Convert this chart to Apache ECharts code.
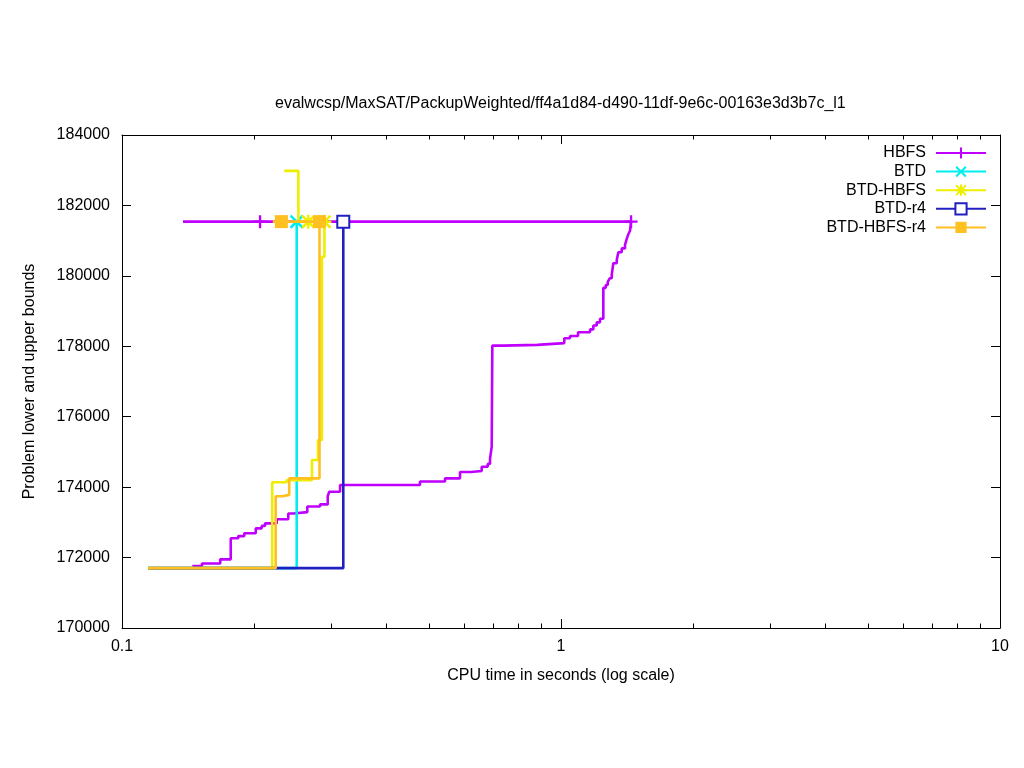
<!DOCTYPE html>
<html><head><meta charset="utf-8">
<script src="https://cdn.jsdelivr.net/npm/echarts@6/dist/echarts.min.js"></script>
<style>html,body{margin:0;padding:0;background:#fff}#c{width:1024px;height:768px}</style>
</head><body><div id="c"></div>
<script>
const titleText = 'evalwcsp/MaxSAT/PackupWeighted/ff4a1d84-d490-11df-9e6c-00163e3d3b7c_l1';
const xName = 'CPU time in seconds (log scale)';
const yName = 'Problem lower and upper bounds';
const seriesNames = ['HBFS', 'BTD', 'BTD-HBFS', 'BTD-r4', 'BTD-HBFS-r4'];
const xMinorTicks = [0.2, 0.3, 0.4, 0.5, 0.6, 0.7, 0.8, 0.9, 2, 3, 4, 5, 6, 7, 8, 9];

// HBFS
const hbfsLowT = [0.1446, 0.1521, 0.1674, 0.1769, 0.1840, 0.1899, 0.2017, 0.2081, 0.2117, 0.2251, 0.2392, 0.2456, 0.2643, 0.2825, 0.2942, 0.2966, 0.3139, 0.4773, 0.5443, 0.5888, 0.6237, 0.6597, 0.6808, 0.6891, 0.6953, 0.6975, 0.7389, 0.8831, 1.0174, 1.0484, 1.0934, 1.1645, 1.1848, 1.2060, 1.2270, 1.2486, 1.2644, 1.2778, 1.2911, 1.3049, 1.3158, 1.3396, 1.3508, 1.3751, 1.3990, 1.4116, 1.4234, 1.4362, 1.444];
const hbfsLowV = [171760, 171830, 171950, 172550, 172610, 172690, 172830, 172900, 172970, 173090, 173250, 173290, 173450, 173510, 173750, 173870, 174060, 174160, 174250, 174430, 174460, 174580, 174660, 174800, 175150, 178020, 178040, 178090, 178230, 178290, 178400, 178480, 178590, 178680, 178780, 179660, 179740, 179830, 179930, 180030, 180360, 180450, 180670, 180780, 180880, 181050, 181180, 181280, 181540];
const hbfsUpT = [0.1377, 0.2063, 1.444];
const hbfsUpV = [181540, 181540, 181540];
const hbfsUpMark = [0, 1, 1];

// BTD
const btdLowT = [0.1146, 0.2500];
const btdLowV = [171700, 181540];
const btdLowMark = [0, 1];

// BTD-HBFS
const btdHbfsLowT = [0.1146, 0.2199, 0.2372, 0.2709, 0.2796, 0.2854, 0.2891];
const btdHbfsLowV = [171700, 174140, 174200, 174770, 175340, 180540, 181540];
const btdHbfsUpT = [0.2342, 0.2522, 0.2656, 0.2891];
const btdHbfsUpV = [182980, 181540, 181540, 181540];
const btdHbfsUpMark = [0, 0, 1, 1];

// BTD-r4
const btdR4LowT = [0.1146, 0.3192];
const btdR4LowV = [171700, 181540];
const btdR4LowMark = [0, 1];

// BTD-HBFS-r4
const btdHbfsR4LowT = [0.1146, 0.2239, 0.2319, 0.2404, 0.2818];
const btdHbfsR4LowV = [171700, 173740, 173780, 174250, 181540];
const btdHbfsR4UpT = [0.2205, 0.2307, 0.2818];
const btdHbfsR4UpV = [181540, 181540, 181540];
const btdHbfsR4UpMark = [0, 1, 1];

const FONT = 'Liberation Sans, Arial, sans-serif';
const colors = ['#c000ff', '#00eeee', '#eeee00', '#2020c0', '#ffc020'];
const PLUS = 'path://M5.75,0H8.25V14H5.75Z M0,5.75H14V8.25H0Z';
const CROSS = 'path://M1.77,0L14,12.23L12.23,14L0,1.77Z M12.23,0L14,1.77L1.77,14L0,12.23Z';
const STAR = 'path://M5.75,0H8.25V14H5.75Z M0,5.75H14V8.25H0Z M1.77,0L14,12.23L12.23,14L0,1.77Z M12.23,0L14,1.77L1.77,14L0,12.23Z';
const symbols = [PLUS, CROSS, STAR, 'emptyRect', 'rect'];
const symSizes = [13, 14, 14, 12, 13];

function makeData(ts, vs, marks) {
  return ts.map((t, i) => {
    const item = { value: [t, vs[i]] };
    if (!marks || !marks[i]) item.symbol = 'none';
    return item;
  });
}

function lineSeries(idx, ts, vs, marks) {
  return {
    type: 'line', name: seriesNames[idx], step: 'end',
    data: makeData(ts, vs, marks),
    symbol: symbols[idx], symbolSize: symSizes[idx], showSymbol: true,
    lineStyle: { color: colors[idx], width: 2.6 },
    itemStyle: { color: colors[idx], borderColor: colors[idx], borderWidth: idx === 3 ? 3 : 0 },
    emphasis: { disabled: true }, animation: false, z: 2 + idx
  };
}

const series = [
  lineSeries(0, hbfsLowT, hbfsLowV, null),
  lineSeries(0, hbfsUpT, hbfsUpV, hbfsUpMark),
  lineSeries(1, btdLowT, btdLowV, btdLowMark),
  lineSeries(2, btdHbfsLowT, btdHbfsLowV, null),
  lineSeries(2, btdHbfsUpT, btdHbfsUpV, btdHbfsUpMark),
  lineSeries(3, btdR4LowT, btdR4LowV, btdR4LowMark),
  lineSeries(4, btdHbfsR4LowT, btdHbfsR4LowV, null),
  lineSeries(4, btdHbfsR4UpT, btdHbfsR4UpV, btdHbfsR4UpMark),
  {
    type: 'custom', name: 'minorTicks', silent: true, z: 20,
    data: xMinorTicks.map(v => [v, 170000]),
    encode: { x: 0, y: 1 },
    renderItem: function (params, api) {
      const x = Math.round(api.coord([api.value(0), 170000])[0]) + 0.5;
      const cs = params.coordSys;
      const yb = cs.y + cs.height, yt = cs.y;
      return { type: 'group', children: [
        { type: 'line', shape: { x1: x, y1: yb, x2: x, y2: yb - 4.5 }, style: { stroke: '#000', lineWidth: 1 } },
        { type: 'line', shape: { x1: x, y1: yt, x2: x, y2: yt + 4.5 }, style: { stroke: '#000', lineWidth: 1 } }
      ] };
    }
  }
];

const axisCommon = {
  axisLine: { show: true, lineStyle: { color: '#000', width: 1 } },
  axisTick: { show: true, inside: true, length: 9, lineStyle: { color: '#000', width: 1 } },
  splitLine: { show: false }
};

const option = {
  backgroundColor: '#fff',
  animation: false,
  textStyle: { fontFamily: FONT },
  title: {
    text: titleText, left: 275, top: 96, padding: 0,
    textStyle: { fontFamily: FONT, fontSize: 16, fontWeight: 'normal', color: '#000' }
  },
  grid: { left: 122, right: 24, top: 135, bottom: 140, containLabel: false },
  legend: {
    data: seriesNames, orient: 'vertical', right: 32, top: 140, align: 'right',
    itemWidth: 50, itemHeight: 14, itemGap: 2.6,
    textStyle: { fontFamily: FONT, fontSize: 16, color: '#000', padding: [0, 5, 0, 0] },
    selectedMode: false
  },
  xAxis: [
    Object.assign({
      type: 'log', logBase: 10, min: 0.1, max: 10, position: 'bottom',
      name: xName, nameLocation: 'middle', nameGap: 40,
      nameTextStyle: { fontFamily: FONT, fontSize: 16, color: '#000' },
      axisLabel: { fontFamily: FONT, fontSize: 16, color: '#000', margin: 11, formatter: v => String(v) }
    }, axisCommon),
    Object.assign({
      type: 'log', logBase: 10, min: 0.1, max: 10, position: 'top',
      axisLabel: { show: false }
    }, axisCommon)
  ],
  yAxis: [
    Object.assign({
      type: 'value', min: 170000, max: 184000, interval: 2000, position: 'left',
      name: yName, nameLocation: 'middle', nameGap: 84,
      nameTextStyle: { fontFamily: FONT, fontSize: 16, color: '#000' },
      axisLabel: { fontFamily: FONT, fontSize: 16, color: '#000', margin: 12, formatter: v => String(v) }
    }, axisCommon),
    Object.assign({
      type: 'value', min: 170000, max: 184000, interval: 2000, position: 'right',
      axisLabel: { show: false }
    }, axisCommon)
  ],
  series: series
};

const chart = echarts.init(document.getElementById('c'), null, { renderer: 'canvas' });
chart.setOption(option);
</script>
</body></html>
